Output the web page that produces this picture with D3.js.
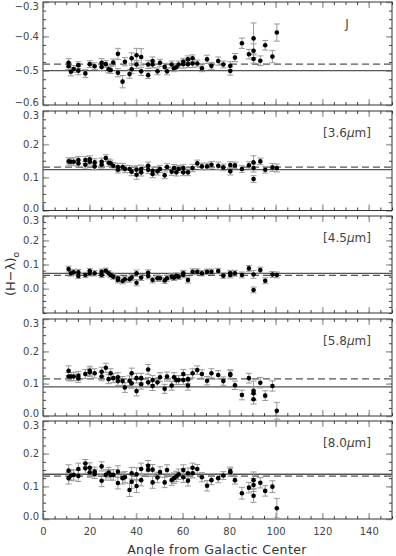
<!DOCTYPE html>
<html>
<head>
<meta charset="utf-8">
<script src="https://cdn.jsdelivr.net/npm/d3@7"></script>
<style>
  body { margin: 0; background: #fff; }
  text { font-family: "DejaVu Sans", sans-serif; }
</style>
</head>
<body>
<script>
// colour excess vs. angle from the Galactic centre, five bands

var width = 396;
var height = 556;

var bandNames = ["J", "[3.6\u03bcm]", "[4.5\u03bcm]", "[5.8\u03bcm]", "[8.0\u03bcm]"];
var yDomains = [[-0.6, -0.3], [0, 0.3], [-0.1, 0.3], [0, 0.3], [0, 0.3]];
var yTickLabels = [[-0.6, -0.5, -0.4, -0.3], [0, 0.1, 0.2, 0.3], [0, 0.1, 0.2, 0.3], [0, 0.1, 0.2, 0.3], [0, 0.1, 0.2, 0.3]];
var xTicks = [0, 20, 40, 60, 80, 100, 120, 140];
var solidLevel = [-0.5, 0.123, 0.063, 0.09, 0.137];
var dashedLevel = [-0.481, 0.131, 0.055, 0.115, 0.131];

// J
var angleJ = [11,11,12,13.2,15.2,15.2, 18.2,20.1,22.2,25.2,25.2, 27,28.2,29.1,30.2,32.2, 32.2,34.2,35.2,37.2,38.1,
  38.1,40.2,40.2,42.2,42.2, 45.2,45.2,47.1,47.1,49.2, 50.3,52.3,53.3,55.3,56.3, 57.3,58.3,60.3,60.3,62.3,
  62.3,64.3,64.3,66.3,68.3, 70.5,72.4,75.3,77.5,80.5, 80.5,82.5,85.5,88.5,90.5, 90.5,90.5,93.4,95.5,98.6, 100.5];
var valueJ = [-0.477,-0.487,-0.503,-0.495,-0.500,-0.484, -0.508,-0.481,-0.487,-0.477,-0.489, -0.481,-0.496,-0.498,-0.476,-0.451,
  -0.506,-0.532,-0.474,-0.510,-0.496, -0.464,-0.455,-0.482,-0.460,-0.502, -0.482,-0.513,-0.472,-0.482,-0.502,
  -0.477,-0.489,-0.502,-0.482,-0.493, -0.490,-0.482,-0.474,-0.481,-0.467, -0.481,-0.464,-0.479,-0.479,-0.493,
  -0.467,-0.486,-0.472,-0.482,-0.486, -0.501,-0.462,-0.420,-0.452,-0.406, -0.442,-0.466,-0.471,-0.426,-0.459, -0.389];
var errorJ = [0.012,0.010,0.012,0.010,0.012,0.010, 0.012,0.010,0.010,0.012,0.010, 0.010,0.010,0.010,0.010,0.016,
  0.012,0.018,0.012,0.012,0.012, 0.016,0.020,0.012,0.024,0.012, 0.012,0.010,0.012,0.010,0.010,
  0.010,0.010,0.010,0.010,0.010, 0.010,0.010,0.010,0.012,0.010, 0.010,0.010,0.012,0.010,0.010,
  0.012,0.010,0.012,0.010,0.012, 0.012,0.012,0.015,0.014,0.045, 0.020,0.012,0.014,0.014,0.018, 0.025];

// 3.6 micron
var angle36 = [11,12,13.2,15.2,15.2, 18.2,18.2,20.1,20.1,22.2, 22.2,25.2,25.2,27,28.2, 29.1,30.2,32.2,32.2,34.2,
  35.2,37.2,38.1,40.2,40.2, 42.2,42.2,45.2,45.2,47.1, 47.1,49.2,50.3,52.3,53.3, 55.3,56.3,57.3,58.3,60.3,
  60.3,62.3,64.3,66.3,68.3, 70.5,72.4,75.3,77.5,80.5, 80.5,82.5,85.5,88.5,90.5, 90.5,90.5,93.4,95.5,98.6, 100.5];
var value36 = [0.148,0.147,0.147,0.152,0.142, 0.152,0.138,0.154,0.147,0.145, 0.133,0.147,0.138,0.158,0.144,
  0.142,0.135,0.131,0.123,0.131, 0.125,0.125,0.117,0.123,0.108, 0.115,0.125,0.135,0.123,0.120,
  0.110,0.118,0.125,0.106,0.131, 0.117,0.128,0.115,0.125,0.128, 0.115,0.115,0.128,0.142,0.133,
  0.133,0.138,0.135,0.130,0.137, 0.118,0.136,0.125,0.136,0.145, 0.128,0.095,0.148,0.123,0.130, 0.128];
var error36 = [0.011,0.010,0.012,0.011,0.010, 0.011,0.010,0.011,0.010,0.011, 0.010,0.011,0.010,0.010,0.011,
  0.010,0.010,0.011,0.010,0.011, 0.011,0.011,0.012,0.012,0.014, 0.011,0.012,0.011,0.011,0.011,
  0.011,0.011,0.011,0.010,0.010, 0.011,0.011,0.011,0.011,0.010, 0.010,0.010,0.011,0.010,0.010,
  0.010,0.010,0.011,0.010,0.010, 0.011,0.010,0.010,0.011,0.020, 0.012,0.010,0.010,0.010,0.012, 0.012];

// 4.5 micron
var angle45 = [11,12,13.2,15.2,15.2, 18.2,20.1,20.1,22.2,25.2, 25.2,27,28.2,29.1,30.2, 32.2,32.2,34.2,35.2,37.2,
  38.1,40.2,40.2,42.2,45.2, 45.2,47.1,49.2,50.3,52.3, 53.3,55.3,56.3,57.3,58.3, 60.3,60.3,62.3,64.3,66.3,
  68.3,70.5,72.4,75.3,77.5, 80.5,80.5,82.5,85.5,88.5, 90.5,90.5,93.4,95.5,98.6, 100.5];
var value45 = [0.081,0.064,0.068,0.068,0.053, 0.057,0.073,0.064,0.064,0.070, 0.057,0.074,0.064,0.057,0.050,
  0.043,0.036,0.032,0.039,0.039, 0.046,0.064,0.025,0.046,0.066, 0.053,0.036,0.043,0.043,0.034,
  0.043,0.050,0.046,0.053,0.050, 0.064,0.057,0.036,0.070,0.070, 0.064,0.070,0.070,0.073,0.054,
  0.064,0.057,0.064,0.057,0.084, 0.059,-0.005,0.077,0.033,0.059, 0.057];
var error45 = [0.012,0.012,0.012,0.012,0.011, 0.011,0.011,0.011,0.011,0.011, 0.011,0.011,0.011,0.011,0.011,
  0.012,0.012,0.012,0.012,0.012, 0.012,0.013,0.013,0.012,0.012, 0.012,0.012,0.012,0.012,0.012,
  0.012,0.012,0.012,0.012,0.012, 0.012,0.012,0.012,0.012,0.012, 0.011,0.011,0.011,0.011,0.011,
  0.012,0.012,0.012,0.012,0.012, 0.016,0.012,0.012,0.012,0.012, 0.012];

// 5.8 micron
var angle58 = [11,11,12,13.2,15.2, 15.2,18.2,20.1,20.1,22.2, 25.2,25.2,27,28.2,29.1, 30.2,32.2,32.2,34.2,35.2,
  37.2,38.1,38.1,40.2,40.2, 42.2,42.2,45.2,45.2,47.1, 47.1,49.2,50.3,52.3,53.3, 55.3,56.3,57.3,58.3,60.3,
  60.3,62.3,62.3,64.3,66.3, 68.3,70.5,72.4,75.3,77.5, 80.5,80.5,82.5,85.5,88.5, 90.5,90.5,90.5,93.4,95.5, 98.6,100.5];
var value58 = [0.140,0.122,0.122,0.122,0.124, 0.117,0.130,0.140,0.135,0.132, 0.137,0.122,0.149,0.114,0.132,
  0.117,0.108,0.120,0.108,0.088, 0.109,0.132,0.101,0.117,0.077, 0.117,0.098,0.144,0.104,0.111,
  0.093,0.104,0.120,0.084,0.122, 0.094,0.120,0.111,0.111,0.130, 0.111,0.114,0.094,0.132,0.142,
  0.130,0.109,0.132,0.127,0.108, 0.130,0.127,0.095,0.065,0.117, 0.078,0.070,0.052,0.103,0.063, 0.093,0.016];
var error58 = [0.015,0.013,0.013,0.013,0.014, 0.013,0.014,0.014,0.013,0.014, 0.014,0.013,0.014,0.014,0.014,
  0.014,0.014,0.014,0.014,0.015, 0.015,0.016,0.015,0.015,0.015, 0.015,0.015,0.015,0.015,0.014,
  0.014,0.014,0.014,0.014,0.014, 0.014,0.014,0.014,0.014,0.014, 0.014,0.014,0.014,0.014,0.013,
  0.013,0.013,0.014,0.013,0.013, 0.013,0.013,0.013,0.015,0.015, 0.030,0.020,0.015,0.016,0.015, 0.016,0.026];

// 8.0 micron
var angle80 = [11,11,12,13.2,15.2, 15.2,18.2,18.2,20.1,20.1, 22.2,22.2,25.2,25.2,27, 28.2,29.1,30.2,32.2,32.2,
  34.2,35.2,37.2,38.1,38.1, 40.2,40.2,42.2,42.2,45.2, 45.2,47.1,47.1,49.2,50.3, 52.3,53.3,55.3,56.3,57.3,
  58.3,60.3,60.3,62.3,62.3, 64.3,64.3,66.3,68.3,70.5, 72.4,75.3,77.5,80.5,80.5, 82.5,85.5,88.5,90.5,90.5,
  90.5,93.4,95.5,98.6,100.5];
var value80 = [0.148,0.125,0.133,0.135,0.153, 0.132,0.170,0.155,0.157,0.143, 0.145,0.138,0.161,0.117,0.135,
  0.142,0.135,0.135,0.145,0.110, 0.125,0.128,0.089,0.140,0.114, 0.137,0.101,0.153,0.119,0.163,
  0.151,0.151,0.112,0.127,0.144, 0.112,0.150,0.119,0.125,0.130, 0.137,0.150,0.128,0.140,0.117,
  0.157,0.140,0.153,0.128,0.102, 0.119,0.125,0.133,0.147,0.143, 0.119,0.079,0.096,0.119,0.104,
  0.071,0.111,0.086,0.099,0.033];
var error80 = [0.018,0.018,0.016,0.016,0.018, 0.017,0.012,0.016,0.015,0.015, 0.014,0.014,0.014,0.018,0.016,
  0.016,0.016,0.016,0.018,0.018, 0.018,0.017,0.020,0.018,0.020, 0.020,0.020,0.018,0.018,0.016,
  0.016,0.016,0.018,0.016,0.016, 0.016,0.016,0.016,0.016,0.016, 0.016,0.016,0.016,0.016,0.016,
  0.014,0.014,0.014,0.014,0.016, 0.014,0.014,0.012,0.012,0.012, 0.012,0.018,0.016,0.025,0.020,
  0.020,0.016,0.016,0.018,0.030];

var angles = [angleJ, angle36, angle45, angle58, angle80];
var values = [valueJ, value36, value45, value58, value80];
var errors = [errorJ, error36, error45, error58, error80];

// panel frames (pixels)
var left = 43, right = 392;
var tops = [2, 111, 216, 319, 421];
var bottoms = [105, 210.5, 313, 416, 519];

var svg = d3.select("body").append("svg")
    .attr("width", width)
    .attr("height", height);

var x = d3.scaleLinear().domain([0, 150]).range([left, right]);
var minorX = d3.range(0, 151, 5);

for (var p = 0; p < 5; p++) {
  var y = d3.scaleLinear().domain(yDomains[p]).range([bottoms[p], tops[p]]);
  var g = svg.append("g");
  var d0 = yDomains[p][0], d1 = yDomains[p][1];
  var minorY = d3.range(0, Math.round((d1 - d0) / 0.025) + 1).map(function(i) { return d0 + i * 0.025; });
  var yLabs = yTickLabels[p];

  // minor ticks
  g.append("g").attr("transform", "translate(0," + bottoms[p] + ")")
    .call(d3.axisBottom(x).tickValues(minorX).tickSize(-3).tickFormat(""));
  g.append("g").attr("transform", "translate(0," + tops[p] + ")")
    .call(d3.axisTop(x).tickValues(minorX).tickSize(-3).tickFormat(""));
  g.append("g").attr("transform", "translate(" + left + ",0)")
    .call(d3.axisLeft(y).tickValues(minorY).tickSize(-3).tickFormat(""));
  g.append("g").attr("transform", "translate(" + right + ",0)")
    .call(d3.axisRight(y).tickValues(minorY).tickSize(-3).tickFormat(""));

  // major ticks
  g.append("g").attr("class", "major").attr("transform", "translate(0," + bottoms[p] + ")")
    .call(d3.axisBottom(x).tickValues(xTicks).tickSize(-6).tickPadding(9).tickFormat(p == 4 ? d3.format("d") : ""));
  g.append("g").attr("class", "major").attr("transform", "translate(0," + tops[p] + ")")
    .call(d3.axisTop(x).tickValues(xTicks).tickSize(-6).tickFormat(""));
  var ly = g.append("g").attr("class", "major").attr("transform", "translate(" + left + ",0)")
    .call(d3.axisLeft(y).tickValues(yLabs).tickSize(-6).tickPadding(4).tickFormat(d3.format(".1f")));
  g.append("g").attr("class", "major").attr("transform", "translate(" + right + ",0)")
    .call(d3.axisRight(y).tickValues(yLabs).tickSize(-6).tickFormat(""));

  // keep the end labels of stacked panels apart
  ly.selectAll(".tick text")
    .attr("dy", function(d) {
      if (d == yLabs[yLabs.length - 1]) return "0.75em";
      if (d == yLabs[0] && d == d0) return "0.05em";
      return "0.32em";
    });

  g.selectAll(".domain").remove();
  g.selectAll(".tick line").attr("stroke", "#444").attr("stroke-width", 1);
  g.selectAll(".major .tick line").attr("stroke", "#aaa").attr("stroke-width", 1.6);
  g.selectAll(".tick text").attr("fill", "#444").style("font-size", "10px")
    .style("font-family", "'DejaVu Sans', sans-serif");

  // frame
  g.append("rect")
    .attr("x", left)
    .attr("y", tops[p])
    .attr("width", right - left)
    .attr("height", bottoms[p] - tops[p])
    .attr("fill", "none")
    .attr("stroke", "#333")
    .attr("stroke-width", 1);

  // reference levels
  g.append("line")
    .attr("x1", left).attr("x2", right)
    .attr("y1", y(solidLevel[p])).attr("y2", y(solidLevel[p]))
    .attr("stroke", "#555").attr("stroke-width", 1.3);
  g.append("line")
    .attr("x1", left).attr("x2", right)
    .attr("y1", y(dashedLevel[p])).attr("y2", y(dashedLevel[p]))
    .attr("stroke", "#555").attr("stroke-width", 1.2)
    .attr("stroke-dasharray", "7,4");

  var pts = angles[p].map(function(a, i) { return { a: a, v: values[p][i], e: errors[p][i] }; });

  // error bars
  var eb = g.append("g").attr("stroke", "#999").attr("stroke-width", 1);
  eb.selectAll("line.v").data(pts).enter().append("line")
    .attr("x1", function(d) { return x(d.a); })
    .attr("x2", function(d) { return x(d.a); })
    .attr("y1", function(d) { return y(d.v - d.e); })
    .attr("y2", function(d) { return y(d.v + d.e); });
  eb.selectAll("line.t").data(pts).enter().append("line")
    .attr("x1", function(d) { return x(d.a) - 3; })
    .attr("x2", function(d) { return x(d.a) + 3; })
    .attr("y1", function(d) { return y(d.v + d.e); })
    .attr("y2", function(d) { return y(d.v + d.e); });
  eb.selectAll("line.b").data(pts).enter().append("line")
    .attr("x1", function(d) { return x(d.a) - 3; })
    .attr("x2", function(d) { return x(d.a) + 3; })
    .attr("y1", function(d) { return y(d.v - d.e); })
    .attr("y2", function(d) { return y(d.v - d.e); });

  // points
  g.selectAll("circle").data(pts).enter().append("circle")
    .attr("cx", function(d) { return x(d.a); })
    .attr("cy", function(d) { return y(d.v); })
    .attr("r", 2.3)
    .attr("fill", "#000");

  // band label
  var lab = g.append("text")
    .attr("x", 347)
    .attr("y", tops[p] + 26)
    .attr("text-anchor", "middle")
    .style("fill", "#444")
    .style("font-size", "12px");
  if (p == 0) {
    lab.text("J");
  } else {
    var nm = bandNames[p];
    lab.append("tspan").text(nm.slice(0, 4));
    lab.append("tspan").style("font-style", "italic").text("\u03bc");
    lab.append("tspan").text("m]");
  }
}

// axis titles
svg.append("text")
    .text("Angle from Galactic Center")
    .attr("x", 217)
    .attr("y", 554)
    .attr("text-anchor", "middle")
    .attr("fill", "#333")
    .style("font-size", "12.5px")
    .style("letter-spacing", "0.4px");

var yt = svg.append("text")
    .attr("transform", "translate(15,274) rotate(-90)")
    .attr("text-anchor", "middle")
    .attr("fill", "#333")
    .style("font-size", "13px");
yt.append("tspan").text("(H\u2212\u03bb)");
yt.append("tspan").attr("dy", 4).style("font-size", "9px").text("o");
</script>
</body>
</html>
